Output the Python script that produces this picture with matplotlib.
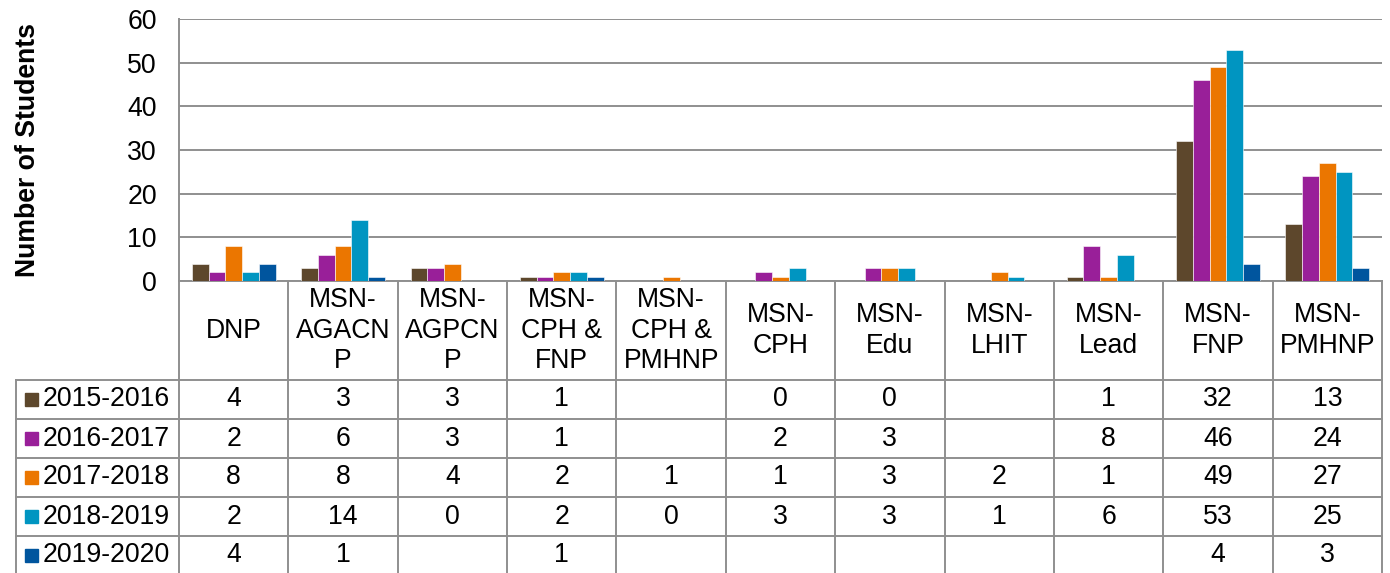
import numpy as np
import matplotlib
matplotlib.use("Agg")
import matplotlib.pyplot as plt

plt.rcParams['font.family'] = ['Liberation Sans', 'DejaVu Sans']

programs = ["DNP", "MSN-\nAGACN\nP", "MSN-\nAGPCN\nP", "MSN-\nCPH &\nFNP",
            "MSN-\nCPH &\nPMHNP", "MSN-\nCPH", "MSN-\nEdu", "MSN-\nLHIT",
            "MSN-\nLead", "MSN-\nFNP", "MSN-\nPMHNP"]
years = ["2015-2016", "2016-2017", "2017-2018", "2018-2019", "2019-2020"]
n = None
y2015 = [4, 3, 3, 1, n, 0, 0, n, 1, 32, 13]
y2016 = [2, 6, 3, 1, n, 2, 3, n, 8, 46, 24]
y2017 = [8, 8, 4, 2, 1, 1, 3, 2, 1, 49, 27]
y2018 = [2, 14, 0, 2, 0, 3, 3, 1, 6, 53, 25]
y2019 = [4, 1, n, 1, n, n, n, n, n, 4, 3]
series = [y2015, y2016, y2017, y2018, y2019]
colors = ['#5d472c', '#991f99', '#eb7600', '#0095c1', '#00559e']

W, H = 1390, 573
fig = plt.figure(figsize=(W / 100, H / 100), dpi=100)

# layout in pixels
ax_l, ax_r, ax_t, ax_b = 179, 1382, 19, 281
tab_l = 16
hdr_h = 99
row_h = 39.0
grid_c = '#8f8f8f'
fs = 19.2

ncat = len(programs)
ax = fig.add_axes([ax_l / W, 1 - ax_b / H, (ax_r - ax_l) / W, (ax_b - ax_t) / H])
x = np.arange(ncat) + 0.5
bw = 0.765 / len(series)
for k, (vals, c) in enumerate(zip(series, colors)):
    v = np.array([np.nan if a is None else a for a in vals], dtype=float)
    ax.bar(x + (k - 2) * bw, np.nan_to_num(v), width=bw, color=c,
           edgecolor='white', linewidth=0.4, zorder=3)

ax.set_xlim(0, ncat)
ax.set_ylim(0, 60)
ax.set_yticks(range(0, 61, 10))
ax.set_xticks([])
ax.tick_params(axis='y', length=0, pad=16, labelsize=fs)
ax.yaxis.grid(True, color=grid_c, linewidth=1.4, zorder=0)
for s in ['top', 'right']:
    ax.spines[s].set_visible(False)
for s in ['left', 'bottom']:
    ax.spines[s].set_color(grid_c)
    ax.spines[s].set_linewidth(1.4)
ax.set_ylabel("Number of Students", fontsize=fs, fontweight='bold', labelpad=62)

# data table below the bars
cw = (ax_r - ax_l) / ncat
lab_w = (ax_l - tab_l) / cw
nrows = len(series)
hdr_u = hdr_h / row_h
tab_h = hdr_h + nrows * row_h
tx = fig.add_axes([tab_l / W, 1 - (ax_b + tab_h) / H, (ax_r - tab_l) / W, tab_h / H])
tx.set_xlim(-lab_w, ncat)
tx.set_ylim(hdr_u + nrows, 0)
tx.axis('off')

lk = dict(color=grid_c, linewidth=1.4, clip_on=False)
for i in range(ncat + 1):
    tx.plot([i, i], [0, hdr_u + nrows], **lk)
tx.plot([-lab_w, -lab_w], [hdr_u, hdr_u + nrows], **lk)
for r in range(nrows + 1):
    tx.plot([-lab_w, ncat], [hdr_u + r, hdr_u + r], **lk)

for i, p in enumerate(programs):
    tx.text(i + 0.5, hdr_u / 2, p, ha='center', va='center', fontsize=fs,
            linespacing=1.22)

sq = 13 / cw
for r, (yr, vals, c) in enumerate(zip(years, series, colors)):
    yc = hdr_u + r + 0.5
    tx.add_patch(plt.Rectangle((-lab_w + 9 / cw, yc - 0.5 * 13 / row_h), sq, 13 / row_h,
                               color=c, clip_on=False))
    tx.text(-lab_w + 27 / cw, yc, yr, ha='left', va='center', fontsize=fs)
    for i, v in enumerate(vals):
        if v is not None:
            tx.text(i + 0.5, yc, str(v), ha='center', va='center', fontsize=fs)

fig.savefig("out.png", dpi=100)
